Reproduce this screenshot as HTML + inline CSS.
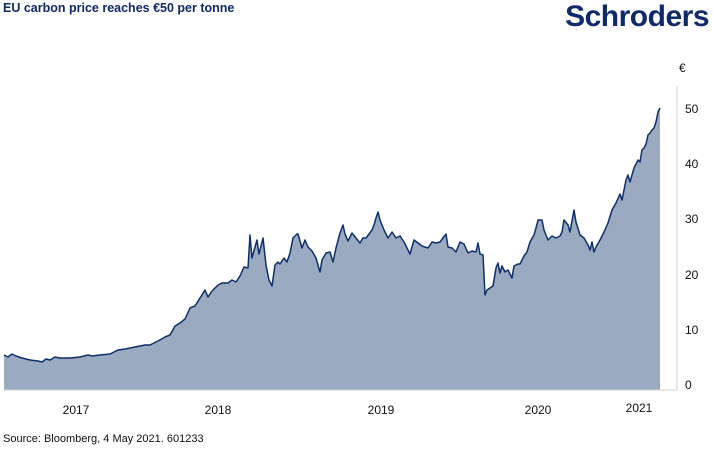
<!DOCTYPE html>
<html><head><meta charset="utf-8"><style>
body{margin:0;width:713px;height:448px;background:#fff;overflow:hidden;font-family:"Liberation Sans","DejaVu Sans",sans-serif;}
</style></head><body>
<svg width="713" height="448" xmlns="http://www.w3.org/2000/svg">
<text x="3" y="12" font-size="12.5" font-weight="bold" fill="#0e2a6a" font-family="Liberation Sans, sans-serif">EU carbon price reaches €50 per tonne</text>
<text x="709" y="26" text-anchor="end" font-size="30" font-weight="bold" fill="#0e2a6a" letter-spacing="-0.5" font-family="Liberation Sans, sans-serif">Schroders</text>
<path fill="#9aaac0" stroke="none" d="M4,390 L4,355 L8,357 L12,354 L16,356 L22,358 L30,360 L38,361 L42,362 L46,359 L50,360 L55,357 L60,358 L70,358 L80,357 L88,355 L92,356 L100,355 L110,354 L118,350 L125,349 L135,347 L145,345 L150,345 L158,341 L165,337 L170,335 L175,326 L180,323 L185,319 L190,308 L195,306 L200,298 L205,290 L208,297 L212,291 L218,285 L222,283 L228,283 L232,280 L236,282 L240,276 L244,267 L248,268 L250,235 L252,258 L255,247 L257,240 L259,254 L263,238 L266,265 L269,280 L272,286 L275,265 L278,262 L280,264 L284,258 L287,262 L290,253 L293,238 L297,234 L298,234 L302,248 L305,240 L308,247 L312,251 L316,258 L320,272 L322,260 L326,253 L330,252 L333,262 L336,248 L340,233 L343,225 L345,234 L348,241 L352,233 L356,238 L360,243 L363,238 L366,238 L372,230 L374,225 L376,218 L378,212 L380,220 L384,230 L388,238 L392,232 L396,238 L400,236 L404,242 L410,254 L414,240 L418,243 L422,246 L428,248 L432,242 L436,243 L440,242 L446,234 L448,247 L452,248 L456,252 L460,242 L464,244 L468,253 L472,251 L476,252 L478,243 L480,254 L483,255 L485,295 L487,290 L490,288 L493,286 L496,268 L498,263 L500,273 L502,266 L505,272 L508,270 L512,278 L514,266 L518,264 L520,264 L524,256 L527,252 L530,242 L534,235 L536,228 L538,220 L542,220 L544,230 L548,240 L552,236 L556,238 L560,236 L562,232 L564,220 L568,225 L570,232 L574,210 L576,222 L580,235 L584,238 L588,245 L590,250 L592,242 L594,252 L596,247 L600,240 L604,232 L608,223 L612,210 L616,203 L620,194 L622,200 L624,190 L626,180 L628,175 L630,182 L634,168 L638,160 L640,162 L642,150 L644,148 L646,144 L648,135 L650,133 L652,130 L654,128 L656,122 L658,112 L660,108 L660,390 Z"/>
<path fill="none" stroke="#0d2f6b" stroke-width="1.5" stroke-linejoin="round" d="M4,355 L8,357 L12,354 L16,356 L22,358 L30,360 L38,361 L42,362 L46,359 L50,360 L55,357 L60,358 L70,358 L80,357 L88,355 L92,356 L100,355 L110,354 L118,350 L125,349 L135,347 L145,345 L150,345 L158,341 L165,337 L170,335 L175,326 L180,323 L185,319 L190,308 L195,306 L200,298 L205,290 L208,297 L212,291 L218,285 L222,283 L228,283 L232,280 L236,282 L240,276 L244,267 L248,268 L250,235 L252,258 L255,247 L257,240 L259,254 L263,238 L266,265 L269,280 L272,286 L275,265 L278,262 L280,264 L284,258 L287,262 L290,253 L293,238 L297,234 L298,234 L302,248 L305,240 L308,247 L312,251 L316,258 L320,272 L322,260 L326,253 L330,252 L333,262 L336,248 L340,233 L343,225 L345,234 L348,241 L352,233 L356,238 L360,243 L363,238 L366,238 L372,230 L374,225 L376,218 L378,212 L380,220 L384,230 L388,238 L392,232 L396,238 L400,236 L404,242 L410,254 L414,240 L418,243 L422,246 L428,248 L432,242 L436,243 L440,242 L446,234 L448,247 L452,248 L456,252 L460,242 L464,244 L468,253 L472,251 L476,252 L478,243 L480,254 L483,255 L485,295 L487,290 L490,288 L493,286 L496,268 L498,263 L500,273 L502,266 L505,272 L508,270 L512,278 L514,266 L518,264 L520,264 L524,256 L527,252 L530,242 L534,235 L536,228 L538,220 L542,220 L544,230 L548,240 L552,236 L556,238 L560,236 L562,232 L564,220 L568,225 L570,232 L574,210 L576,222 L580,235 L584,238 L588,245 L590,250 L592,242 L594,252 L596,247 L600,240 L604,232 L608,223 L612,210 L616,203 L620,194 L622,200 L624,190 L626,180 L628,175 L630,182 L634,168 L638,160 L640,162 L642,150 L644,148 L646,144 L648,135 L650,133 L652,130 L654,128 L656,122 L658,112 L660,108"/>
<line x1="4" y1="390" x2="677" y2="390" stroke="#d0d0d0" stroke-width="1"/>
<line x1="677" y1="86" x2="677" y2="390" stroke="#d0d0d0" stroke-width="1"/>
<g font-size="12" fill="#111" font-family="Liberation Sans, sans-serif">
<text x="679" y="72">€</text>
<text x="685" y="113">50</text>
<text x="685" y="168">40</text>
<text x="685" y="223">30</text>
<text x="685" y="279">20</text>
<text x="685" y="334">10</text>
<text x="685" y="389">0</text>
<text x="76" y="414" text-anchor="middle">2017</text>
<text x="218" y="414" text-anchor="middle">2018</text>
<text x="381" y="414" text-anchor="middle">2019</text>
<text x="538" y="414" text-anchor="middle">2020</text>
<text x="639" y="412" text-anchor="middle">2021</text>
<text x="3" y="442" font-size="11">Source: Bloomberg, 4 May 2021. 601233</text>
</g>
</svg>
</body></html>
